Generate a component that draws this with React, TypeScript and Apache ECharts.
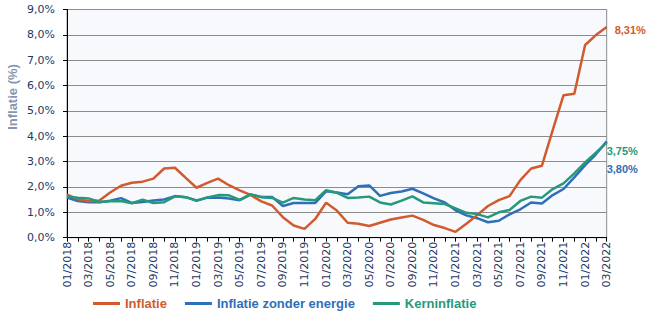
import React, { useEffect, useRef } from "react";
import * as echarts from "echarts";

const months: string[] = [];
for (let y = 2018; y <= 2022; y++) {
  for (let m = 1; m <= 12; m++) {
    if (y === 2022 && m > 3) break;
    months.push(`${m < 10 ? "0" + m : m}/${y}`);
  }
}

const inflatie = [
  1.70, 1.52, 1.44, 1.47, 1.78, 2.05, 2.17, 2.21, 2.33, 2.73, 2.76, 2.36,
  1.97, 2.16, 2.33, 2.07, 1.87, 1.69, 1.43, 1.27, 0.81, 0.48, 0.35, 0.74,
  1.38, 1.07, 0.59, 0.55, 0.46, 0.59, 0.72, 0.80, 0.87, 0.70, 0.50, 0.38,
  0.23, 0.55, 0.89, 1.25, 1.48, 1.64, 2.27, 2.73, 2.84, 4.24, 5.62, 5.68,
  7.60, 7.99, 8.31,
];

const zonderEnergie = [
  1.58, 1.45, 1.40, 1.40, 1.46, 1.56, 1.37, 1.41, 1.47, 1.51, 1.64, 1.60,
  1.47, 1.58, 1.59, 1.55, 1.48, 1.70, 1.61, 1.61, 1.25, 1.37, 1.37, 1.37,
  1.83, 1.78, 1.71, 2.03, 2.06, 1.65, 1.76, 1.82, 1.93, 1.75, 1.55, 1.39,
  1.08, 0.88, 0.77, 0.61, 0.67, 0.92, 1.12, 1.39, 1.35, 1.68, 1.92, 2.38,
  2.86, 3.29, 3.80,
];

const kerninflatie = [
  1.63, 1.58, 1.55, 1.41, 1.44, 1.45, 1.36, 1.50, 1.37, 1.40, 1.63, 1.60,
  1.45, 1.59, 1.68, 1.67, 1.49, 1.71, 1.60, 1.57, 1.38, 1.57, 1.51, 1.48,
  1.87, 1.77, 1.57, 1.59, 1.62, 1.39, 1.31, 1.46, 1.63, 1.39, 1.36, 1.33,
  1.16, 0.98, 0.93, 0.80, 1.00, 1.09, 1.45, 1.62, 1.58, 1.92, 2.14, 2.54,
  2.97, 3.35, 3.75,
];

const seriesNames = ["Inflatie", "Inflatie zonder energie", "Kerninflatie"];
const colors = ["#CF5B2E", "#2E6FB7", "#26997B"];

const fmt = (v: number, d: number) => v.toFixed(d).replace(".", ",") + "%";

export default function App() {
  const ref = useRef<HTMLDivElement>(null);
  useEffect(() => {
    if (!ref.current) return;
    const chart = echarts.init(ref.current, undefined, { renderer: "svg" });
    const endLabel = (color: string, distance: number, offset: number[]) => ({
      show: true,
      formatter: (p: any) => fmt(p.value, 2),
      color,
      fontSize: 11,
      fontWeight: "bold",
      fontFamily: "Liberation Sans, Arial, sans-serif",
      distance,
      offset,
    });
    const datasets = [inflatie, zonderEnergie, kerninflatie];
    const labelCfg = [
      endLabel(colors[0], 8, [0, 3]),
      endLabel(colors[1], 0, [0, 28]),
      endLabel(colors[2], 0, [0, 8]),
    ];
    chart.setOption({
      animation: false,
      backgroundColor: "#ffffff",
      grid: {
        left: 67,
        right: 56.3,
        top: 9.5,
        bottom: 91.3,
        show: true,
        backgroundColor: "#F7F9FC",
        borderColor: "#8C8C8C",
        borderWidth: 1,
      },
      legend: {
        data: seriesNames.map((name, i) => ({
          name,
          textStyle: { color: colors[i] },
        })),
        left: 93,
        top: 297,
        padding: 0,
        icon: "rect",
        itemWidth: 27,
        itemHeight: 3,
        itemGap: 18,
        textStyle: {
          fontSize: 13,
          fontWeight: "bold",
          fontFamily: "Liberation Sans, Arial, sans-serif",
        },
      },
      xAxis: {
        type: "category",
        data: months,
        boundaryGap: false,
        axisLine: { show: true, lineStyle: { color: "#000000", width: 1 } },
        axisTick: {
          show: true,
          interval: 0,
          length: 4,
          lineStyle: { color: "#000000" },
        },
        axisLabel: {
          interval: 1,
          rotate: 90,
          margin: 4,
          color: "#1F3864",
          fontSize: 11,
          fontFamily: "DejaVu Sans, Verdana, sans-serif",
        },
        splitLine: { show: false },
      },
      yAxis: {
        type: "value",
        min: 0,
        max: 9,
        interval: 1,
        axisLine: { show: true, lineStyle: { color: "#000000", width: 1 } },
        axisTick: { show: true, length: 4, lineStyle: { color: "#000000" } },
        axisLabel: {
          margin: 12,
          color: "#1F3864",
          fontSize: 11,
          fontFamily: "DejaVu Sans, Verdana, sans-serif",
          formatter: (v: number) => fmt(v, 1),
        },
        splitLine: { show: true, lineStyle: { color: "#8C8C8C", width: 1 } },
      },
      graphic: [
        {
          type: "text",
          x: 12,
          y: 97,
          rotation: Math.PI / 2,
          style: {
            text: "Inflatie (%)",
            fill: "#8497B0",
            font: "bold 13px 'Liberation Sans', Arial, sans-serif",
            align: "center",
            verticalAlign: "middle",
            textAlign: "center",
            textVerticalAlign: "middle",
          },
        },
      ],
      series: seriesNames.map((name, i) => ({
        name,
        type: "line",
        data: datasets[i],
        showSymbol: false,
        symbol: "none",
        color: colors[i],
        lineStyle: { color: colors[i], width: 2.5 },
        endLabel: labelCfg[i],
        z: i === 0 ? 3 : i === 1 ? 2 : 4,
      })),
    });
    return () => chart.dispose();
  }, []);
  return (
    <div
      ref={ref}
      style={{ position: "fixed", left: 0, top: 0, width: 663, height: 329 }}
    />
  );
}
